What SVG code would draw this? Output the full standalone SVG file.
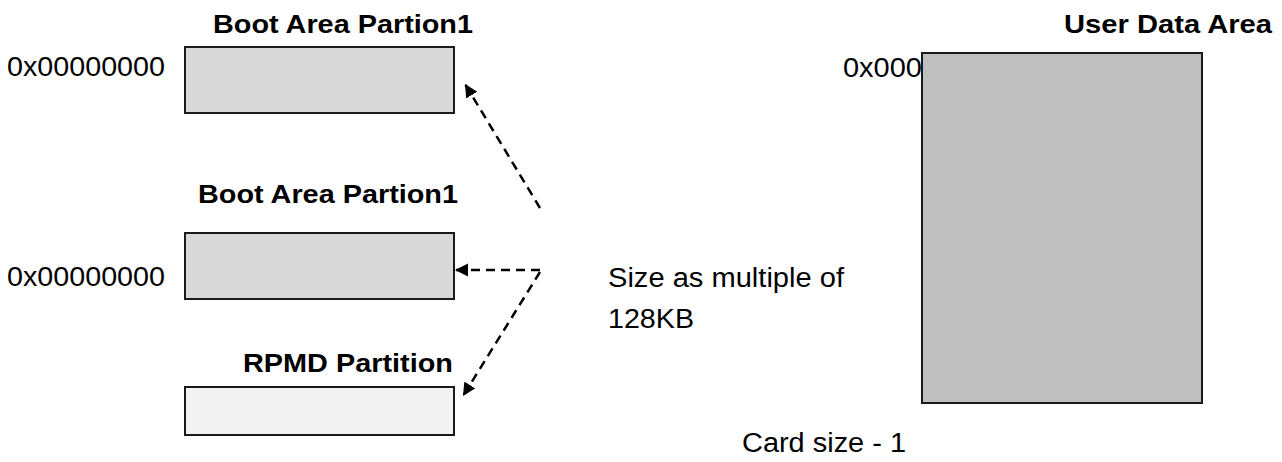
<svg xmlns="http://www.w3.org/2000/svg" width="1282" height="462" viewBox="0 0 1282 462">
  <style>
    .lbl { font-family: "Liberation Sans", Arial, sans-serif; font-size: 27px; fill: #000; }
    .ttl { font-family: "Liberation Sans", Arial, sans-serif; font-size: 26px; font-weight: bold; fill: #000; }
    .box { stroke: #1a1a1a; stroke-width: 2; }
    .conn { fill: none; stroke: #000; stroke-width: 2.5; stroke-dasharray: 9 6; }
  </style>
  <defs>
    <marker id="arrow" markerUnits="userSpaceOnUse" markerWidth="14" markerHeight="14" refX="13" refY="6.5" orient="auto">
      <path d="M0,0 L13,6.5 L0,13 z" fill="#000"/>
    </marker>
  </defs>
  <rect width="1282" height="462" fill="#fff"/>

  <g id="boot1">
    <text class="ttl" x="213" y="33" textLength="260" lengthAdjust="spacingAndGlyphs">Boot Area Partion1</text>
    <text class="lbl" x="7" y="76" textLength="158" lengthAdjust="spacingAndGlyphs">0x00000000</text>
    <rect class="box" x="185" y="47" width="269" height="66" fill="#d9d9d9"/>
  </g>

  <g id="boot2">
    <text class="ttl" x="198" y="203" textLength="260" lengthAdjust="spacingAndGlyphs">Boot Area Partion1</text>
    <text class="lbl" x="7" y="286" textLength="158" lengthAdjust="spacingAndGlyphs">0x00000000</text>
    <rect class="box" x="185" y="233" width="269" height="66" fill="#d9d9d9"/>
  </g>

  <g id="rpmd">
    <text class="ttl" x="243" y="372" textLength="210" lengthAdjust="spacingAndGlyphs">RPMD Partition</text>
    <rect class="box" x="185" y="387" width="269" height="48" fill="#f2f2f2"/>
  </g>

  <g id="userdata">
    <text class="ttl" x="1064" y="33" textLength="208" lengthAdjust="spacingAndGlyphs">User Data Area</text>
    <rect class="box" x="922" y="53" width="280" height="350" fill="#bfbfbf"/>
    <text class="lbl" x="843" y="77" textLength="79" lengthAdjust="spacingAndGlyphs">0x000</text>
    <text class="lbl" x="742" y="452" textLength="164" lengthAdjust="spacingAndGlyphs">Card size - 1</text>
  </g>

  <g id="note">
    <text class="lbl" x="608" y="287" textLength="236" lengthAdjust="spacingAndGlyphs">Size as multiple of</text>
    <text class="lbl" x="608" y="328" textLength="86" lengthAdjust="spacingAndGlyphs">128KB</text>
  </g>

  <g id="connectors">
    <line class="conn" x1="540" y1="208" x2="465" y2="84" marker-end="url(#arrow)"/>
    <line class="conn" x1="540" y1="270" x2="455" y2="270" marker-end="url(#arrow)"/>
    <line class="conn" x1="540" y1="272" x2="463" y2="396" marker-end="url(#arrow)"/>
  </g>
</svg>
